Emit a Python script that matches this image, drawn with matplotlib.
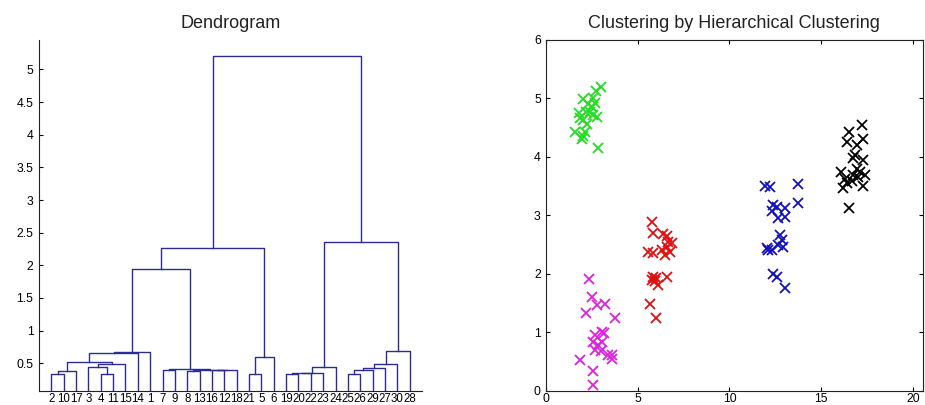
import matplotlib
matplotlib.use("Agg")
import matplotlib.pyplot as plt

plt.rcParams['font.family'] = ['Liberation Sans', 'DejaVu Sans']

# dendrogram: leaf labels in display order, merges as in a linkage table
# (node ids 1..30 are leaves by position, 31.. are earlier merges)
leaf_labels = [2, 10, 17, 3, 4, 11, 15, 14, 1, 7, 9, 8, 13, 16, 12, 18, 21, 5,
               6, 19, 20, 22, 23, 24, 25, 26, 29, 27, 30, 28]
merge_left = [1, 31, 5, 4, 34, 32, 36, 37, 12, 14, 40, 39, 10, 43, 17, 45, 38,
              47, 20, 49, 50, 51, 25, 53, 54, 55, 56, 52, 48]
merge_right = [2, 3, 6, 33, 7, 35, 8, 9, 13, 15, 16, 41, 11, 42, 18, 19, 44,
               46, 21, 22, 23, 24, 26, 27, 28, 29, 30, 57, 58]
merge_height = [0.334, 0.38, 0.334, 0.436, 0.482, 0.522, 0.65, 0.666, 0.385,
                0.39, 0.392, 0.395, 0.40, 0.405, 0.334, 0.60, 1.94, 2.27,
                0.334, 0.344, 0.355, 0.436, 0.334, 0.395, 0.42, 0.482, 0.686,
                2.36, 5.21]

# scatter: points of each cluster
green_x = [2.99, 2.74, 2.59, 2.05, 2.32, 2.68, 1.81, 2.19, 2.59, 2.81, 2.05,
           2.23, 2.41, 1.60, 2.14, 1.96, 2.05, 2.86, 1.87, 2.50]
green_y = [5.20, 5.12, 5.00, 4.99, 4.91, 4.93, 4.75, 4.77, 4.72, 4.69, 4.63,
           4.57, 4.77, 4.43, 4.43, 4.30, 4.35, 4.15, 4.67, 4.85]
magenta_x = [2.38, 2.50, 2.19, 2.77, 3.23, 3.77, 3.05, 2.68, 3.17, 2.59, 3.05,
             2.68, 2.99, 3.41, 3.59, 3.59, 1.87, 2.56, 2.59, 2.86]
magenta_y = [1.91, 1.61, 1.33, 1.47, 1.48, 1.25, 1.01, 0.95, 0.98, 0.84, 0.84,
             0.70, 0.68, 0.61, 0.61, 0.55, 0.52, 0.34, 0.10, 0.78]
red_x = [5.77, 5.86, 6.40, 5.58, 5.86, 6.31, 6.49, 6.67, 6.85, 6.58, 5.86,
         5.95, 5.77, 6.13, 6.62, 5.68, 5.98, 6.58, 6.00, 6.76]
red_y = [2.88, 2.69, 2.68, 2.38, 2.35, 2.41, 2.32, 2.55, 2.52, 2.46, 1.95,
         1.87, 1.89, 1.80, 1.95, 1.49, 1.25, 2.64, 1.92, 2.38]
blue_x = [11.93, 12.20, 13.74, 13.74, 12.38, 12.56, 12.29, 13.02, 12.65, 13.02,
          12.75, 12.84, 12.93, 12.11, 12.29, 12.02, 12.65, 12.38, 12.60, 13.02]
blue_y = [3.50, 3.49, 3.53, 3.21, 3.18, 3.15, 3.08, 3.12, 2.95, 2.98, 2.66,
          2.58, 2.46, 2.41, 2.41, 2.44, 2.49, 1.99, 1.95, 1.75]
black_x = [17.19, 16.52, 17.28, 16.37, 16.92, 16.83, 16.74, 17.28, 16.05, 17.10,
           17.37, 16.74, 16.37, 16.65, 17.01, 16.20, 17.28, 16.52, 16.28, 16.92]
black_y = [4.55, 4.43, 4.31, 4.26, 4.20, 4.03, 3.98, 3.95, 3.75, 3.75, 3.69,
           3.69, 3.55, 3.58, 3.66, 3.46, 3.51, 3.12, 3.63, 3.80]

line_color = "#2d2d8f"


def node_pos(node, centers, heights):
  n = len(leaf_labels)
  if node <= n:
    return float(node), 0.0
  return centers[node - n - 1], heights[node - n - 1]


def draw_dendrogram(ax):
  centers = []
  for (a, b, h) in zip(merge_left, merge_right, merge_height):
    xa, ha = node_pos(a, centers, merge_height)
    xb, hb = node_pos(b, centers, merge_height)
    ax.plot([xa, xa, xb, xb], [ha, h, h, hb], color=line_color, lw=1.0)
    centers.append((xa + xb) / 2)

  n = len(leaf_labels)
  ax.set_xlim(0, n + 1)
  ax.set_ylim(0.08, 5.45)
  ax.set_xticks(range(1, n + 1))
  ax.set_xticklabels([str(v) for v in leaf_labels], fontsize=8.3)
  ax.tick_params(axis="x", length=0, pad=2)
  ax.set_yticks([0.5, 1, 1.5, 2, 2.5, 3, 3.5, 4, 4.5, 5])
  ax.set_yticklabels(["0.5", "1", "1.5", "2", "2.5", "3", "3.5", "4", "4.5", "5"])
  ax.tick_params(axis="y", direction="in", length=3, labelsize=8.8, pad=4)
  ax.spines["top"].set_visible(False)
  ax.spines["right"].set_visible(False)
  ax.set_title("Dendrogram", fontsize=13, pad=9, color="#222222")


def draw_scatter(ax):
  groups = [
    (green_x, green_y, "#22dd22"),
    (magenta_x, magenta_y, "#dd22dd"),
    (red_x, red_y, "#dd1111"),
    (blue_x, blue_y, "#1111bb"),
    (black_x, black_y, "#000000"),
  ]
  for (xs, ys, c) in groups:
    ax.plot(xs, ys, linestyle="none", marker="x", markersize=6.5,
            markeredgewidth=1.3, color=c)
  ax.set_xlim(0, 20.53)
  ax.set_ylim(0, 6)
  ax.set_xticks([0, 5, 10, 15, 20])
  ax.set_yticks([0, 1, 2, 3, 4, 5, 6])
  ax.tick_params(direction="in", length=3, labelsize=8.8, top=True, right=True)
  ax.tick_params(axis="x", pad=2)
  ax.set_title("Clustering by Hierarchical Clustering", fontsize=13, pad=9,
               color="#222222")


if __name__ == "__main__":
  fig = plt.figure(figsize=(9.25, 4.05), dpi=100)

  ax1 = fig.add_axes([39 / 925, 14.3 / 405, 383 / 925, 350.7 / 405])
  draw_dendrogram(ax1)

  ax2 = fig.add_axes([545.7 / 925, 14.3 / 405, 377.3 / 925, 350.7 / 405])
  draw_scatter(ax2)

  for ax in (ax1, ax2):
    for s in ax.spines.values():
      s.set_linewidth(0.8)
      s.set_color("#222222")

  fig.savefig("out.png", dpi=100)
